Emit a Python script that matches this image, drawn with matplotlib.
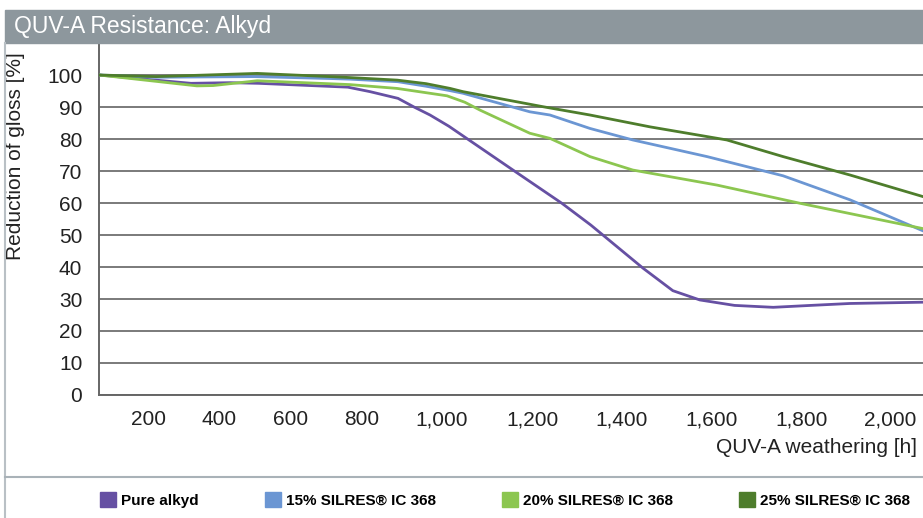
import matplotlib
matplotlib.use("Agg")
import matplotlib.pyplot as plt
import numpy as np
from matplotlib.patches import Rectangle
from matplotlib.lines import Line2D
from matplotlib.ticker import FuncFormatter

plt.rcParams['font.family'] = ['Liberation Sans', 'DejaVu Sans']

# QUV-A weathering hours and gloss values
pure_h = [0, 320, 430, 510, 760, 820, 890, 930, 970, 1015, 1050, 1156, 1265, 1330,
          1447, 1513, 1573, 1650, 1736, 1820, 1909, 2075]
pure_v = [100, 97.4, 97.6, 97.4, 96.2, 94.8, 92.7, 90.0, 87.5, 84.0, 80.6, 70.3, 59.9,
          53.1, 39.6, 32.6, 29.7, 28.0, 27.4, 28.0, 28.6, 29.0]

s15_h = [0, 220, 500, 710, 766, 890, 960, 1018, 1046, 1193, 1238, 1328, 1424, 1589,
         1758, 1909, 2075]
s15_v = [100, 99.3, 99.5, 98.9, 98.7, 97.9, 96.5, 95.1, 94.3, 88.5, 87.5, 83.3, 79.7,
         74.5, 68.5, 61.0, 51.3]

s20_h = [0, 337, 383, 506, 766, 888, 1011, 1050, 1084, 1193, 1238, 1328, 1424, 1611,
         1796, 2075]
s20_v = [100, 96.6, 96.7, 98.2, 97.0, 95.8, 93.5, 91.5, 89.0, 81.8, 80.2, 74.5, 70.3,
         65.6, 59.9, 52.0]

s25_h = [0, 220, 506, 710, 766, 888, 960, 1018, 1046, 1222, 1328, 1462, 1633, 1758,
         1909, 2075]
s25_v = [100, 99.5, 100.5, 99.5, 99.2, 98.4, 97.3, 95.8, 94.8, 90.1, 87.5, 83.8, 79.7,
         74.5, 68.75, 62.0]

series_names = ['Pure alkyd', '15% SILRES® IC 368', '20% SILRES® IC 368', '25% SILRES® IC 368']
series_colors = ['#6650a3', '#6b96d3', '#8cc650', '#4e7d2c']

x_ticks = [200, 400, 600, 800, 1000, 1200, 1400, 1600, 1800, 2000]
y_ticks = [0, 10, 20, 30, 40, 50, 60, 70, 80, 90, 100]

# the printed axis is not evenly spaced: map hours onto the drawn positions
scale_h = np.array([0, 200, 400, 600, 800, 1000, 1200, 1400, 1600, 1800, 2000, 2200])
scale_px = np.array([0, 50, 120, 192, 263, 343, 434, 523, 613, 703, 791, 879])


def fwd(h):
    return np.interp(h, scale_h, scale_px)


def inv(p):
    return np.interp(p, scale_px, scale_h)


fig = plt.figure(figsize=(9.23, 5.18), dpi=100)
ax = fig.add_axes([99 / 923, 1 - 395 / 518, 824 / 923, 352 / 518])

for hh, vv, c in zip([pure_h, s15_h, s20_h, s25_h], [pure_v, s15_v, s20_v, s25_v], series_colors):
    ax.plot(hh, vv, color=c, lw=2.0, solid_joinstyle='round', zorder=3)

ax.set_xscale('function', functions=(fwd, inv))
ax.set_xlim(0, 2075)
ax.set_ylim(0, 110)
ax.set_xticks(x_ticks)
ax.set_yticks(y_ticks)
ax.xaxis.set_major_formatter(FuncFormatter(lambda v, p: f"{int(round(v)):,}"))
ax.xaxis.set_minor_locator(plt.NullLocator())
ax.tick_params(axis='both', length=0, labelsize=15, colors='#222222')
ax.tick_params(axis='x', pad=11)
ax.tick_params(axis='y', pad=12)
ax.grid(axis='y', color='#7a7a7a', lw=1.4, zorder=1)
ax.set_axisbelow(True)
for s in ['top', 'right']:
    ax.spines[s].set_visible(False)
ax.spines['left'].set_color('#666666')
ax.spines['bottom'].set_color('#666666')
ax.spines['left'].set_linewidth(1.4)
ax.spines['bottom'].set_linewidth(1.4)

ax.set_ylabel('Reduction of gloss [%]', fontsize=15, color='#222222')
ax.yaxis.set_label_coords(-0.09, 0.68)
ax.text(0.9927, -0.15, 'QUV-A weathering [h]', transform=ax.transAxes,
        ha='right', va='center', fontsize=15, color='#222222')

# title bar and frame
fig.patches.append(Rectangle((5 / 923, 1 - 43 / 518), 1, 33 / 518, transform=fig.transFigure,
                             color='#8d979d', zorder=0))
fig.text(14 / 923, 1 - 27 / 518, 'QUV-A Resistance: Alkyd', color='white', fontsize=16.5,
         va='center', ha='left')
fig.lines.append(Line2D([5 / 923, 5 / 923], [0, 1 - 43 / 518], transform=fig.transFigure,
                        color='#b9c0c5', lw=1.5))
fig.lines.append(Line2D([5 / 923, 1], [1 - 477 / 518, 1 - 477 / 518], transform=fig.transFigure,
                        color='#a9b2b8', lw=1.5))

handles = [Rectangle((0, 0), 1, 1, color=c) for c in series_colors]
fig.legend(handles, series_names, loc='center left', bbox_to_anchor=(100 / 923, 1 - 500 / 518),
           ncol=4, frameon=False, prop={'weight': 'bold', 'size': 11},
           handlelength=1.05, handleheight=1.05, handletextpad=0.35, columnspacing=4.3,
           borderpad=0, borderaxespad=0)

plt.savefig('out.png', dpi=100)
